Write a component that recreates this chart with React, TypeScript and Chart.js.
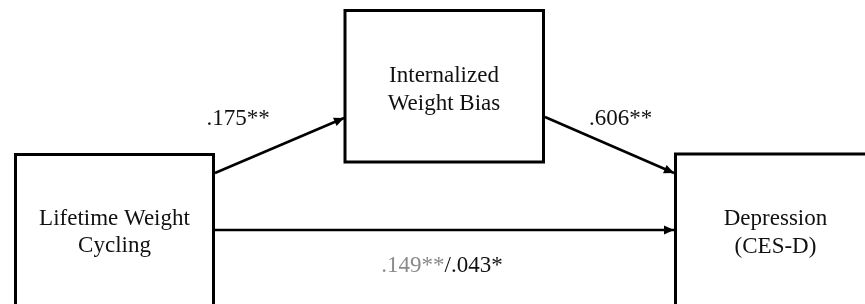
import React, { useEffect, useRef } from "react";
import { Chart, registerables } from "chart.js";

Chart.register(...registerables);

// Nodes of the mediation model (diagram coordinates, y grows downward)
const nodeLines = [
  ["Lifetime Weight", "Cycling"],
  ["Internalized", "Weight Bias"],
  ["Depression", "(CES-D)"],
];
const boxLeft = [15.5, 345, 675.5];
const boxRight = [213.5, 543.5, 900];
const boxTop = [154.5, 10.5, 154];
const boxBottom = [340, 162, 340];
const labelCenterX = [114.5, 444, 775.5];
const labelBaseline = [
  [225, 252],
  [82, 110],
  [225, 253],
];

// Paths (a, b, c/c')
const arrowFromX = [215, 545, 213.5];
const arrowFromY = [173, 117, 230];
const arrowToX = [344, 674, 674];
const arrowToY = [118, 173, 230];

// Path coefficients
const pathLabels = [".175**", ".606**"];
const pathLabelX = [238, 620.5];
const pathLabelY = [125, 125];
const directLabels = [".149**", "/.043*"];
const directColors = ["#8a8a8a", "#111111"];
const directLabelX = 442;
const directLabelY = 272;

const FONT = '23px "Liberation Serif", "Times New Roman", serif';

export default function App() {
  const ref = useRef<HTMLCanvasElement | null>(null);

  useEffect(() => {
    if (!ref.current) return;

    const boxSets = boxLeft.map((l, i) => ({
      data: [
        { x: l, y: boxTop[i] },
        { x: boxRight[i], y: boxTop[i] },
        { x: boxRight[i], y: boxBottom[i] },
        { x: l, y: boxBottom[i] },
        { x: l, y: boxTop[i] },
      ],
      showLine: true,
      borderColor: "#000",
      borderWidth: 3,
      borderJoinStyle: "miter" as const,
      borderCapStyle: "square" as const,
      pointRadius: 0,
      fill: false,
      tension: 0,
    }));

    const arrowSets = arrowFromX.map((fx, i) => ({
      data: [
        { x: fx, y: arrowFromY[i] },
        { x: arrowToX[i], y: arrowToY[i] },
      ],
      showLine: true,
      borderColor: "#000",
      borderWidth: 2.5,
      pointRadius: 0,
      fill: false,
      tension: 0,
    }));

    const diagramPlugin = {
      id: "diagram",
      afterDatasetsDraw(chart: any) {
        const ctx = chart.ctx as CanvasRenderingContext2D;
        const xs = chart.scales.x;
        const ys = chart.scales.y;
        ctx.save();
        // arrowheads
        arrowFromX.forEach((fx, i) => {
          const x0 = xs.getPixelForValue(fx);
          const y0 = ys.getPixelForValue(arrowFromY[i]);
          const x1 = xs.getPixelForValue(arrowToX[i]);
          const y1 = ys.getPixelForValue(arrowToY[i]);
          const ang = Math.atan2(y1 - y0, x1 - x0);
          const len = 10;
          const hw = 4.5;
          const bx = x1 - len * Math.cos(ang);
          const by = y1 - len * Math.sin(ang);
          ctx.beginPath();
          ctx.moveTo(x1, y1);
          ctx.lineTo(bx + hw * Math.sin(ang), by - hw * Math.cos(ang));
          ctx.lineTo(bx - hw * Math.sin(ang), by + hw * Math.cos(ang));
          ctx.closePath();
          ctx.fillStyle = "#000";
          ctx.fill();
        });
        // node labels
        ctx.font = FONT;
        ctx.textAlign = "center";
        ctx.textBaseline = "alphabetic";
        ctx.fillStyle = "#111";
        nodeLines.forEach((lines, i) => {
          lines.forEach((t, j) => {
            ctx.fillText(
              t,
              xs.getPixelForValue(labelCenterX[i]),
              ys.getPixelForValue(labelBaseline[i][j])
            );
          });
        });
        // path labels
        pathLabels.forEach((t, i) => {
          ctx.fillText(t, xs.getPixelForValue(pathLabelX[i]), ys.getPixelForValue(pathLabelY[i]));
        });
        // direct effect label (two colours)
        ctx.textAlign = "left";
        const widths = directLabels.map((t) => ctx.measureText(t).width);
        const total = widths.reduce((a, b) => a + b, 0);
        let cx = xs.getPixelForValue(directLabelX) - total / 2;
        const cy = ys.getPixelForValue(directLabelY);
        directLabels.forEach((t, i) => {
          ctx.fillStyle = directColors[i];
          ctx.fillText(t, cx, cy);
          cx += widths[i];
        });
        ctx.restore();
      },
    };

    const chart = new Chart(ref.current, {
      type: "scatter",
      data: { datasets: [...boxSets, ...arrowSets] as any },
      options: {
        animation: false,
        responsive: false,
        maintainAspectRatio: false,
        events: [],
        layout: { padding: 0 },
        plugins: { legend: { display: false }, tooltip: { enabled: false } },
        scales: {
          x: { type: "linear", min: 0, max: 865, display: false },
          y: { type: "linear", min: 0, max: 304, reverse: true, display: false },
        },
      },
      plugins: [diagramPlugin],
    });
    return () => chart.destroy();
  }, []);

  return (
    <div style={{ position: "absolute", left: 0, top: 0, width: 865, height: 304, background: "#fff" }}>
      <canvas ref={ref} width={865} height={304} style={{ display: "block" }} />
    </div>
  );
}
